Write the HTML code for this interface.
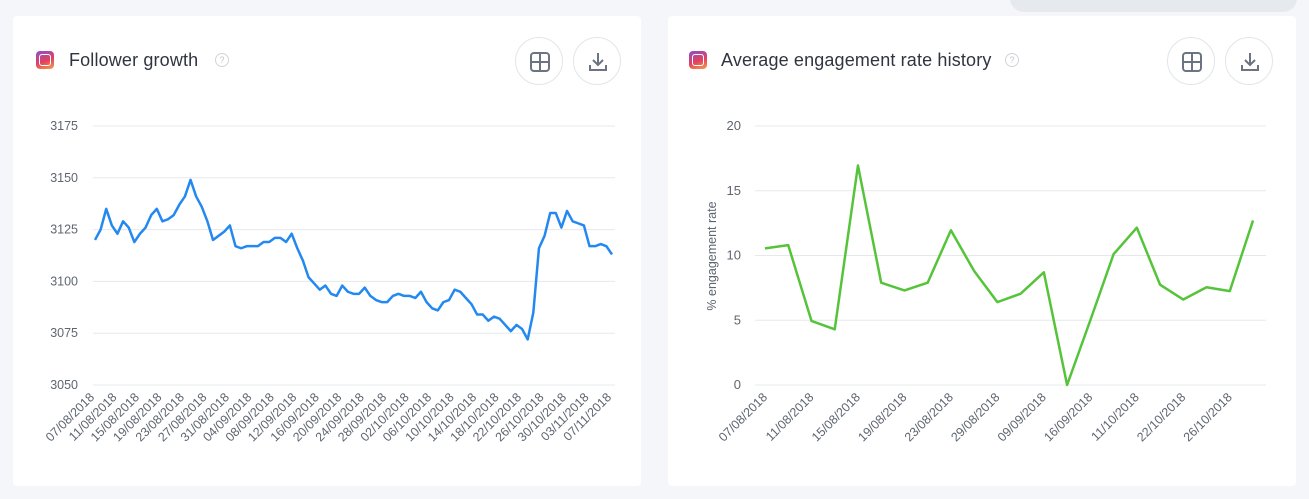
<!DOCTYPE html>
<html><head><meta charset="utf-8"><style>
html,body{margin:0;padding:0;}
body{width:1309px;height:499px;background:#f4f6f9;position:relative;overflow:hidden;font-family:"Liberation Sans",sans-serif;}
.card{position:absolute;top:16px;width:628px;height:470px;background:#fff;border-radius:4px;}
.title{position:absolute;top:50px;font-size:18px;letter-spacing:0.15px;color:#2f3540;}
.ig{position:absolute;top:51px;width:18px;height:18px;border-radius:4px;background:linear-gradient(160deg,#8a4fd0,#e4405f 55%,#f6a04a);}
.ig:after{content:"";position:absolute;left:3px;top:3px;border:1.5px solid #fff;border-radius:3px;box-sizing:border-box;width:12px;height:12px;}
.help{position:absolute;top:53px;width:12px;height:12px;border:1px solid #d0d4d9;border-radius:50%;font-size:9px;color:#c0c4c9;text-align:center;line-height:12px;}
.btn{position:absolute;top:37px;width:48px;height:48px;border:1px solid #e2e5e9;border-radius:50%;box-sizing:border-box;}
.btn svg{position:absolute;left:13px;top:13px;}
#topshape{position:absolute;left:1010px;top:-20px;width:287px;height:32px;background:#e6e9ed;border-radius:14px;}
svg text{font-family:"Liberation Sans",sans-serif;}
</style></head><body>
<div id="topshape"></div>
<div class="card" style="left:13px"></div>
<div class="card" style="left:668px"></div>

<div class="ig" style="left:36px"></div>
<div class="title" style="left:69px">Follower growth</div>
<div class="help" style="left:215px">?</div>
<div class="btn" style="left:515px"><svg width="22" height="22" viewBox="0 0 22 22"><rect x="2" y="2" width="18" height="18" rx="3" fill="none" stroke="#6b7480" stroke-width="2"/><path d="M11 2V20M2 11H20" stroke="#6b7480" stroke-width="2"/></svg></div>
<div class="btn" style="left:573px"><svg width="22" height="22" viewBox="0 0 22 22"><path d="M11 2V14M6 9L11 14L16 9M3 14V19H19V14" fill="none" stroke="#6b7480" stroke-width="2"/></svg></div>

<div class="ig" style="left:689px"></div>
<div class="title" style="left:721px">Average engagement rate history</div>
<div class="help" style="left:1005px">?</div>
<div class="btn" style="left:1167px"><svg width="22" height="22" viewBox="0 0 22 22"><rect x="2" y="2" width="18" height="18" rx="3" fill="none" stroke="#6b7480" stroke-width="2"/><path d="M11 2V20M2 11H20" stroke="#6b7480" stroke-width="2"/></svg></div>
<div class="btn" style="left:1225px"><svg width="22" height="22" viewBox="0 0 22 22"><path d="M11 2V14M6 9L11 14L16 9M3 14V19H19V14" fill="none" stroke="#6b7480" stroke-width="2"/></svg></div>

<svg id="c1" width="1309" height="499" style="position:absolute;left:0;top:0"></svg>
<svg id="c2" width="1309" height="499" style="position:absolute;left:0;top:0"></svg>

<script>
const followerValues=[3120,3125,3135,3127,3123,3129,3126,3119,3123,3126,3132,3135,3129,3130,3132,3137,3141,3149,3141,3136,3129,3120,3122,3124,3127,3117,3116,3117,3117,3117,3119,3119,3121,3121,3119,3123,3116,3110,3102,3099,3096,3098,3094,3093,3098,3095,3094,3094,3097,3093,3091,3090,3090,3093,3094,3093,3093,3092,3095,3090,3087,3086,3090,3091,3096,3095,3092,3089,3084,3084,3081,3083,3082,3079,3076,3079,3077,3072,3085,3116,3122,3133,3133,3126,3134,3129,3128,3127,3117,3117,3118,3117,3113];
const followerLabels=["07/08/2018","11/08/2018","15/08/2018","19/08/2018","23/08/2018","27/08/2018","31/08/2018","04/09/2018","08/09/2018","12/09/2018","16/09/2018","20/09/2018","24/09/2018","28/09/2018","02/10/2018","06/10/2018","10/10/2018","14/10/2018","18/10/2018","22/10/2018","26/10/2018","30/10/2018","03/11/2018","07/11/2018"];
const followerTicks=[3050,3075,3100,3125,3150,3175];
const engagementValues=[10.55,10.8,4.95,4.3,16.95,7.9,7.3,7.9,11.95,8.8,6.4,7.05,8.7,0,5.0,10.1,12.15,7.75,6.6,7.55,7.25,12.7];
const engagementLabels=["07/08/2018","11/08/2018","15/08/2018","19/08/2018","23/08/2018","29/08/2018","09/09/2018","16/09/2018","11/10/2018","22/10/2018","26/10/2018"];
const engagementTicks=[0,5,10,15,20];
const NS="http://www.w3.org/2000/svg";
function mk(svg,tag,attrs,txt){const e=document.createElementNS(NS,tag);for(const k in attrs)e.setAttribute(k,attrs[k]);if(txt!==undefined)e.textContent=txt;svg.appendChild(e);return e;}

(function(){
const svg=document.getElementById('c1');
const x0=95,x1=612,yTop=126,yBot=385,vMin=3050,vMax=3175;
const xs=i=>x0+(x1-x0)*i/(followerValues.length-1);
const ys=v=>yBot-(v-vMin)/(vMax-vMin)*(yBot-yTop);
followerTicks.forEach(t=>{
 const l=mk(svg,'line',{x1:93,x2:615,y1:ys(t),y2:ys(t),stroke:'#e6e9ec','stroke-width':1});
 
 
 const tx=mk(svg,'text',{x:78,y:ys(t)+4,'text-anchor':'end','font-size':12.5,fill:'#5f6670'},t);
 
 
});
followerLabels.forEach((lab,k)=>{
 const x=xs(k*4),y=398;
 const tx=mk(svg,'text',{x:x,y:y,'text-anchor':'end','font-size':12.5,fill:'#5f6670',transform:`rotate(-45 ${x} ${y})`},lab);
 
 
});
const p=mk(svg,'polyline',{points:followerValues.map((v,i)=>xs(i)+','+ys(v)).join(' '),fill:'none',stroke:'#2389f0','stroke-width':2.5,'stroke-linejoin':'round'});


})();

(function(){
const svg=document.getElementById('c2');
const x0=765,x1=1253,yTop=126,yBot=385,vMin=0,vMax=20;
const xs=i=>x0+(x1-x0)*i/(engagementValues.length-1);
const ys=v=>yBot-(v-vMin)/(vMax-vMin)*(yBot-yTop);
engagementTicks.forEach(t=>{
 const l=mk(svg,'line',{x1:755,x2:1266,y1:ys(t),y2:ys(t),stroke:'#e6e9ec','stroke-width':1});
 
 
 const tx=mk(svg,'text',{x:741,y:ys(t)+4,'text-anchor':'end','font-size':13,fill:'#5f6670'},t);
 
 
});
const yt=mk(svg,'text',{x:716,y:256,'text-anchor':'middle','font-size':12.5,fill:'#5f6670',transform:'rotate(-90 716 256)'},'% engagement rate');


engagementLabels.forEach((lab,k)=>{
 const x=xs(k*2)+3,y=398;
 const tx=mk(svg,'text',{x:x,y:y,'text-anchor':'end','font-size':12.5,fill:'#5f6670',transform:`rotate(-45 ${x} ${y})`},lab);
 
 
});
const p=mk(svg,'polyline',{points:engagementValues.map((v,i)=>xs(i)+','+ys(v)).join(' '),fill:'none',stroke:'#56c43a','stroke-width':2.5,'stroke-linejoin':'round'});


})();
</script>
</body></html>
